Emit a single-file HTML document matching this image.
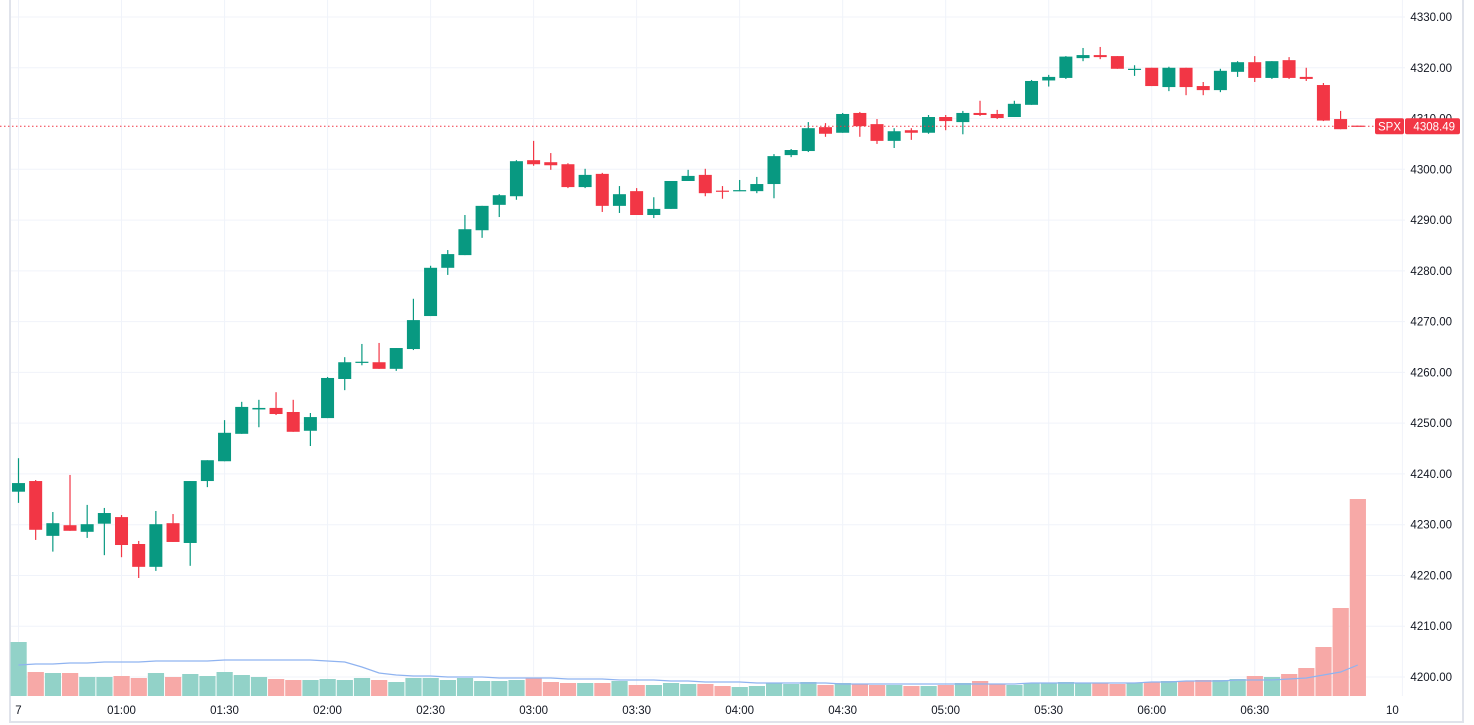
<!DOCTYPE html>
<html><head><meta charset="utf-8">
<style>
html,body{margin:0;padding:0;background:#fff;}
#wrap{position:relative;width:1474px;height:725px;overflow:hidden;font-family:"Liberation Sans",sans-serif;}
svg text{font-family:"Liberation Sans",sans-serif;}
</style></head>
<body>
<div id="wrap">
<svg id="chart" width="1474" height="725"></svg>
</div>
<script>
const opens  =[4236.5,4238.6,4227.8,4229.9,4228.6,4230.2,4231.5,4226.2,4221.7,4230.3,4226.4,4238.6,4242.5,4247.9,4252.7,4253.0,4252.2,4248.5,4251.0,4258.7,4261.9,4262.0,4260.7,4264.6,4271.1,4280.6,4283.1,4288.0,4293.0,4294.7,4301.8,4301.4,4301.0,4296.5,4299.1,4292.8,4295.7,4291.0,4292.2,4297.7,4298.9,4295.8,4295.7,4295.7,4297.1,4302.8,4303.6,4308.3,4307.2,4311.1,4308.9,4305.6,4307.7,4307.2,4310.3,4309.3,4311.1,4310.9,4310.3,4312.7,4317.5,4318.0,4321.9,4322.5,4322.3,4319.7,4320.0,4316.2,4320.0,4316.4,4315.6,4319.2,4321.1,4318.0,4321.5,4318.2,4316.6,4309.9,4308.6];
const highs  =[4243.1,4238.8,4232.5,4239.8,4233.9,4233.3,4231.9,4226.8,4232.7,4232.1,4238.6,4242.7,4250.6,4254.2,4254.6,4256.1,4254.6,4252.0,4259.1,4263.0,4265.6,4265.8,4264.8,4274.5,4281.0,4284.1,4291.0,4292.8,4295.1,4301.8,4305.6,4303.2,4301.2,4300.1,4299.3,4296.7,4296.3,4294.5,4297.7,4299.9,4300.1,4296.7,4297.9,4298.5,4303.0,4304.0,4309.3,4309.1,4311.1,4311.3,4309.9,4308.1,4308.1,4310.7,4310.7,4311.5,4313.5,4311.7,4313.5,4317.6,4318.6,4322.3,4323.9,4324.1,4322.3,4320.5,4320.0,4320.2,4320.0,4317.2,4319.8,4321.3,4322.3,4321.3,4322.1,4320.0,4317.0,4311.5,4308.6];
const lows   =[4234.3,4227.0,4224.7,4228.8,4227.4,4224.0,4223.6,4219.5,4220.9,4226.6,4221.9,4237.4,4242.5,4247.9,4249.2,4251.6,4248.3,4245.5,4251.0,4256.5,4261.4,4260.7,4260.3,4264.4,4271.1,4279.2,4283.1,4286.5,4290.6,4294.0,4300.7,4299.9,4296.3,4296.3,4291.6,4291.4,4291.0,4290.4,4292.2,4297.7,4294.7,4294.2,4295.7,4295.3,4294.3,4302.4,4303.4,4306.4,4307.2,4306.4,4305.0,4304.2,4305.8,4307.0,4307.7,4306.9,4310.5,4309.9,4310.3,4312.7,4316.3,4317.8,4321.3,4321.7,4319.8,4318.4,4316.4,4315.4,4314.6,4314.6,4315.2,4318.2,4317.2,4317.8,4317.8,4317.4,4309.5,4307.9,4308.4];
const closes =[4238.2,4229.0,4230.3,4228.8,4230.1,4232.3,4226.0,4221.7,4230.1,4226.6,4238.6,4242.7,4248.1,4253.2,4253.0,4251.8,4248.3,4251.2,4258.9,4262.0,4262.1,4260.7,4264.8,4270.3,4280.6,4283.3,4288.2,4292.8,4294.9,4301.6,4301.0,4300.8,4296.5,4298.9,4292.8,4295.1,4291.0,4292.2,4297.7,4298.7,4295.3,4295.7,4295.9,4297.1,4302.6,4303.8,4308.1,4307.0,4310.9,4308.5,4305.6,4307.5,4307.2,4310.3,4309.5,4311.1,4310.7,4310.1,4312.9,4317.4,4318.2,4322.2,4322.5,4322.1,4319.8,4319.8,4316.4,4320.0,4316.2,4315.6,4319.4,4321.1,4318.0,4321.3,4318.0,4317.8,4309.6,4307.9,4308.49];
const volumes=[54,24,23,23,19,19,20,18,23,19,22,20,24,21,19,17,16,16,17,16,18,16,14,18,18,16,18,15,15,16,18,14,13,13,13,15,11,11,13,12,12,10,9,10,13,12,14,11,13,12,11,11,10,10,11,13,15,12,11,13,13,14,13,13,12,13,14,15,15,16,16,17,20,19,22,28,49,88,197];
const volMA  =[31,32,32,33,33,34,34,34,35,35,35,35,36,36,36,36,36,36,35,34,29,23,21,20,20,19,19,19,18,18,18,18,17,17,17,16,16,16,15,15,14,14,14,13,13,13,13,13,12,12,12,12,12,12,12,12,12,12,12,13,13,13,13,13,13,13,14,14,15,15,15,16,16,16,17,18,21,24,31];
const priceTicks=[4330,4320,4310,4300,4290,4280,4270,4260,4250,4240,4230,4220,4210,4200];
const timeLabels=["7","01:00","01:30","02:00","02:30","03:00","03:30","04:00","04:30","05:00","05:30","06:00","06:30","10"];
const timeIdx=[0,6,12,18,24,30,36,42,48,54,60,66,72,80.6];
const lastPrice=4308.49;

const NS="http://www.w3.org/2000/svg";
const svg=document.getElementById('chart');
const yP=p=>17+(4330-p)*5.077;
const xI=i=>18.5+i*17.17;
const VB=696;
const yV=v=>VB-v;
const GREEN="#089981",RED="#f23645";
function mk(tag,attrs,parent){const e=document.createElementNS(NS,tag);for(const k in attrs)e.setAttribute(k,attrs[k]);(parent||svg).appendChild(e);return e;}

// frame
let fr=mk('rect',{x:10,y:-2,width:1453,height:724,fill:'none',stroke:'#e0e3eb','stroke-width':2});



// grid
const grid=mk('g',{});


priceTicks.forEach(p=>{mk('line',{x1:11,x2:1405,y1:yP(p),y2:yP(p),stroke:'#f0f3fa','stroke-width':1},grid);});
timeIdx.forEach(i=>{mk('line',{x1:xI(i),x2:xI(i),y1:0,y2:696,stroke:'#f0f3fa','stroke-width':1},grid);});

// volume
const vg=mk('g',{});


volumes.forEach((v,i)=>{
  const up=closes[i]>=opens[i];
  const r=mk('rect',{x:xI(i)-8,y:yV(v),width:16.2,height:v,fill:up?'#92d2c8':'#f7a9a7'},vg);
  
  
});
let d='';volMA.forEach((v,i)=>{d+=(i?'L':'M')+xI(i)+','+yV(v);});
const ma=mk('path',{d:d,fill:'none',stroke:'#8fb3f0','stroke-width':1.2});



// candles
const cg=mk('g',{});


opens.forEach((o,i)=>{
  const c=closes[i],up=c>=o&&i!==78;
  const col=up?GREEN:RED;
  const g=mk('g',{},cg);
  
  
  const x=xI(i);
  mk('line',{x1:x,x2:x,y1:yP(highs[i]),y2:yP(lows[i]),stroke:col,'stroke-width':1.2},g);
  const t=yP(Math.max(o,c)),b=yP(Math.min(o,c));
  mk('rect',{x:x-6.5,y:t,width:13,height:Math.max(1.2,b-t),fill:col},g);
});

// last price line
const lp=mk('line',{x1:0,x2:1375,y1:yP(lastPrice),y2:yP(lastPrice),stroke:RED,'stroke-width':1,'stroke-dasharray':'1.5 2.5'});



// price axis labels
const pa=mk('g',{});


priceTicks.forEach(p=>{
  const t=mk('text',{x:1452,y:yP(p)+4,'text-anchor':'end','font-size':11.5,fill:'#131722'},pa);
  t.textContent=p.toFixed(2);
  
  
});
// time labels
const ta=mk('g',{});


timeLabels.forEach((s,k)=>{
  const t=mk('text',{x:xI(timeIdx[k])-(k===13?10:0),y:714,'text-anchor':'middle','font-size':11.5,fill:'#131722'},ta);
  t.textContent=s;
  
  
});
// SPX tag
const yl=yP(lastPrice);
const tag=mk('g',{});


mk('rect',{x:1375,y:yl-8,width:29,height:16,rx:2,fill:RED},tag);
mk('rect',{x:1405,y:yl-8,width:55,height:16,rx:2,fill:RED},tag);
let t1=mk('text',{x:1389.5,y:yl+4.5,'text-anchor':'middle','font-size':11.5,fill:'#fff'},tag);t1.textContent='SPX';
let t2=mk('text',{x:1455,y:yl+4.5,'text-anchor':'end','font-size':11.5,fill:'#fff'},tag);t2.textContent=lastPrice.toFixed(2);
</script>
</body></html>
